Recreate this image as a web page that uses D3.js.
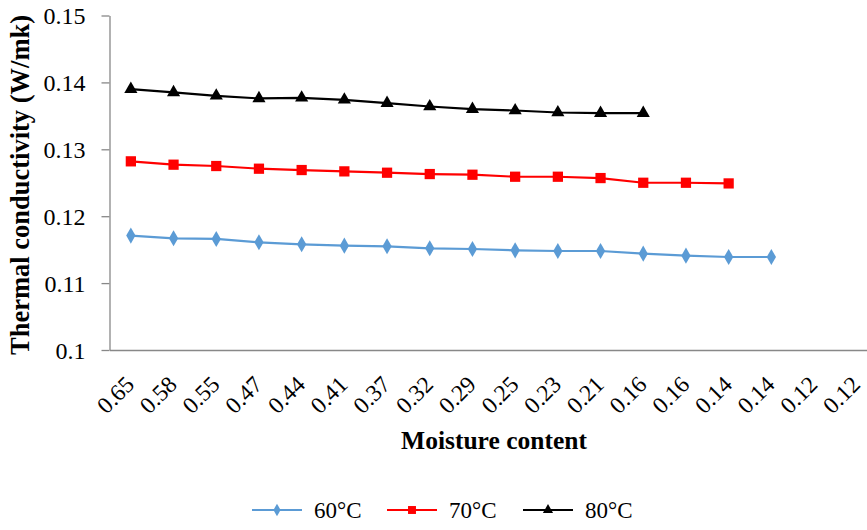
<!DOCTYPE html>
<html lang="en">
<head>
<meta charset="UTF-8">
<title>Thermal conductivity vs moisture content</title>
<script src="https://cdn.jsdelivr.net/npm/d3@7/dist/d3.min.js"></script>
<style>
  body { margin: 0; background: #fff; }
  text { font-family: "Liberation Serif", "Times New Roman", serif; fill: #000; }
</style>
</head>
<body>

<script type="text/javascript">
  // categories (moisture content, in the order shown)
  var moisture = ["0.65","0.58","0.55","0.47","0.44","0.41","0.37","0.32","0.29",
                  "0.25","0.23","0.21","0.16","0.16","0.14","0.14","0.12","0.12"];

  // thermal conductivity (W/mk) per temperature
  var t60 = [0.1171,0.1167,0.1166,0.1161,0.1158,0.1156,0.1155,0.1152,0.1151,
             0.1149,0.1148,0.1148,0.1144,0.1141,0.1139,0.1139];
  var t70 = [0.1282,0.1277,0.1275,0.1271,0.1269,0.1267,0.1265,0.1263,0.1262,
             0.1259,0.1259,0.1257,0.1250,0.1250,0.1249];
  var t80 = [0.1390,0.1385,0.1380,0.1376,0.1377,0.1374,0.1369,0.1364,0.1360,
             0.1358,0.1355,0.1354,0.1354];

  var yTicks = [0.10, 0.11, 0.12, 0.13, 0.14, 0.15];
  var seriesNames = ["60\u00B0C", "70\u00B0C", "80\u00B0C"];

  var w = 867;
  var h = 530;
  var plotLeft = 109.5, plotTop = 15.5, plotBottom = 350;
  var band = 42.7;

  var svg = d3.select("body")
    .append("svg")
    .attr("width", w)
    .attr("height", h);

  var xScale = d3.scaleBand()
    .domain(d3.range(moisture.length))
    .range([plotLeft, plotLeft + band * moisture.length]);

  var yScale = d3.scaleLinear()
    .domain([0.10, 0.15])
    .range([plotBottom, plotTop]);

  var cx = function(i) { return xScale(i) + xScale.bandwidth() / 2; };

  //y axis
  var yAxis = svg.append("g")
    .attr("transform", "translate(" + plotLeft + ",0)")
    .call(d3.axisLeft(yScale).tickValues(yTicks).tickSize(8).tickSizeOuter(0)
      .tickFormat(function(d) { return d3.format(".2~f")(d); }));
  yAxis.select(".domain").attr("stroke", "#888").attr("stroke-width", 1.3);
  yAxis.selectAll(".tick line").attr("stroke", "#888").attr("stroke-width", 1.3);
  yAxis.selectAll(".tick text")
    .attr("x", -24)
    .attr("dy", "0.34em")
    .attr("fill", "#000")
    .style("font-size", "24px")
    .style("font-family", "Liberation Serif");

  //x axis
  var xAxis = svg.append("g")
    .attr("transform", "translate(0," + plotBottom + ")")
    .call(d3.axisBottom(xScale).tickSize(0).tickSizeOuter(0)
      .tickFormat(function(i) { return moisture[i]; }));
  xAxis.select(".domain").attr("stroke", "#888").attr("stroke-width", 1.3);
  xAxis.selectAll(".tick text")
    .attr("text-anchor", "end")
    .attr("transform", "translate(-1,30) rotate(-45)")
    .attr("x", 0)
    .attr("y", 0)
    .attr("dy", "0.35em")
    .attr("fill", "#000")
    .style("font-size", "23.5px")
    .style("font-family", "Liberation Serif");

  //axis titles
  svg.append("text")
    .attr("transform", "translate(29,185) rotate(-90)")
    .attr("text-anchor", "middle")
    .style("font-size", "26.5px")
    .style("font-weight", "bold")
    .text("Thermal conductivity (W/mk)");

  svg.append("text")
    .attr("x", 494)
    .attr("y", 449)
    .attr("text-anchor", "middle")
    .style("font-size", "25.5px")
    .style("font-weight", "bold")
    .text("Moisture content");

  //series
  var series = [
    { name: seriesNames[0], values: t60, color: "#5B9BD5", shape: d3.symbolDiamond, size: 75 },
    { name: seriesNames[1], values: t70, color: "#FF0000", shape: d3.symbolSquare, size: 105 },
    { name: seriesNames[2], values: t80, color: "#000000", shape: d3.symbolTriangle, size: 75 }
  ];

  var line = d3.line()
    .x(function(d, i) { return cx(i); })
    .y(function(d) { return yScale(d); });

  series.forEach(function(s) {
    svg.append("path")
      .datum(s.values)
      .attr("fill", "none")
      .attr("stroke", s.color)
      .attr("stroke-width", 2.2)
      .attr("d", line);

    svg.selectAll(null)
      .data(s.values)
      .enter()
      .append("path")
      .attr("transform", function(d, i) { return "translate(" + cx(i) + "," + yScale(d) + ")"; })
      .attr("d", d3.symbol().type(s.shape).size(s.size))
      .attr("fill", s.color);
  });

  //legend
  var legendX = [252, 387, 523];
  var legend = svg.selectAll(".legend")
    .data(series)
    .enter()
    .append("g")
    .attr("class", "legend")
    .attr("transform", function(d, i) { return "translate(" + legendX[i] + ",510)"; });

  legend.append("line")
    .attr("x1", 0).attr("x2", 50)
    .attr("stroke", function(d) { return d.color; })
    .attr("stroke-width", 2.2);

  legend.append("path")
    .attr("transform", "translate(25,0)")
    .attr("d", function(d) { return d3.symbol().type(d.shape).size(d.size * 0.6)(); })
    .attr("fill", function(d) { return d.color; });

  legend.append("text")
    .attr("x", 62)
    .attr("dy", "0.34em")
    .style("font-size", "23px")
    .text(function(d) { return d.name; });
</script>

</body>
</html>
